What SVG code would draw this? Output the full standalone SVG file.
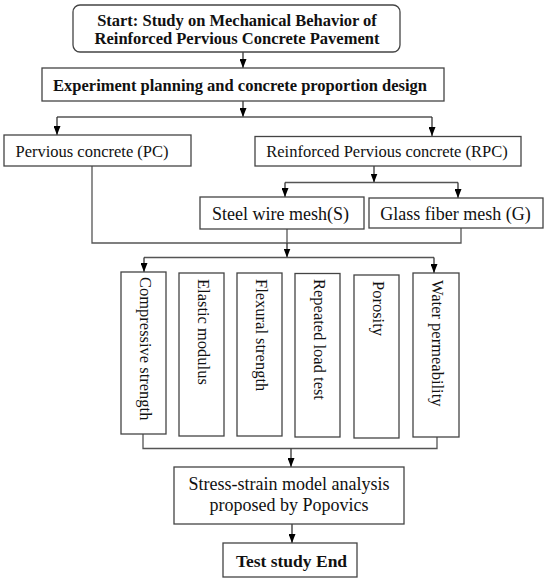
<svg xmlns="http://www.w3.org/2000/svg" width="550" height="582" viewBox="0 0 550 582">
<defs>
<marker id="ah" viewBox="0 0 9 7" refX="9" refY="3.5" markerWidth="9" markerHeight="7" markerUnits="userSpaceOnUse" orient="auto">
<path d="M0,0 L9,3.5 L0,7 z" fill="#000"/>
</marker>
<style>
.box{fill:#fff;stroke:#444;stroke-width:1.3}
.ln{fill:none;stroke:#555;stroke-width:1.3}
.ar{fill:none;stroke:#333;stroke-width:1.3;marker-end:url(#ah)}
.t{font-family:"Liberation Serif","Times New Roman",serif;font-size:16.5px;fill:#111}
.b{font-weight:bold}
.m{text-anchor:middle}
</style>
</defs>
<rect width="550" height="582" fill="#fff"/>
<g id="connectors">
<line class="ar" x1="243" y1="52" x2="243" y2="68"/>
<line class="ar" x1="243" y1="101" x2="243" y2="117"/>
<polyline class="ln" points="57,117 432,117"/>
<line class="ar" x1="57" y1="117" x2="57" y2="135"/>
<line class="ar" x1="432" y1="117" x2="432" y2="136"/>
<line class="ar" x1="374" y1="166" x2="374" y2="182.5"/>
<polyline class="ln" points="285,182.5 458,182.5"/>
<line class="ar" x1="285" y1="182.5" x2="285" y2="197"/>
<line class="ar" x1="458" y1="182.5" x2="458" y2="198"/>
<polyline class="ln" points="92,166 92,243 461,243 461,228"/>
<line class="ln" x1="287" y1="229" x2="287" y2="243"/>
<line class="ar" x1="287" y1="243" x2="287" y2="257.5"/>
<polyline class="ln" points="144,257.5 434,257.5"/>
<line class="ar" x1="144" y1="257.5" x2="144" y2="272"/>
<line class="ar" x1="434" y1="257.5" x2="434" y2="273"/>
<polyline class="ln" points="143,434 143,448.5 437,448.5 437,437"/>
<line class="ar" x1="291" y1="448.5" x2="291" y2="467"/>
<line class="ar" x1="292" y1="524" x2="292" y2="543"/>
</g>
<g id="start">
<rect class="box" x="73" y="5" width="327" height="47" rx="7"/>
<text class="t b m" x="237" y="26">Start: Study on Mechanical Behavior of</text>
<text class="t b m" x="237" y="44">Reinforced Pervious Concrete Pavement</text>
</g>
<g id="design">
<rect class="box" x="42" y="68" width="402" height="33"/>
<text class="t b m" x="240" y="91">Experiment planning and concrete proportion design</text>
</g>
<g id="pc">
<rect class="box" x="4" y="135" width="187" height="31"/>
<text class="t m" x="92" y="157">Pervious concrete (PC)</text>
</g>
<g id="rpc">
<rect class="box" x="255" y="136.5" width="266" height="29.5"/>
<text class="t m" x="387" y="157">Reinforced Pervious concrete (RPC)</text>
</g>
<g id="steel">
<rect class="box" x="200" y="197" width="164" height="32"/>
<text class="t m" x="280.5" y="220" style="font-size:18px">Steel wire mesh(S)</text>
</g>
<g id="glass">
<rect class="box" x="369" y="198" width="174" height="30"/>
<text class="t m" x="455.5" y="220" style="font-size:18px">Glass fiber mesh (G)</text>
</g>
<g id="compressive">
<rect class="box" x="121" y="272" width="45" height="162"/>
<text class="t" transform="translate(139.5,277) rotate(90)">Compressive strength</text>
</g>
<g id="elastic">
<rect class="box" x="179" y="273" width="45" height="163"/>
<text class="t" transform="translate(197.5,279) rotate(90)">Elastic modulus</text>
</g>
<g id="flexural">
<rect class="box" x="237" y="273" width="45" height="163"/>
<text class="t" transform="translate(255.5,279) rotate(90)">Flexural strength</text>
</g>
<g id="repeated">
<rect class="box" x="295" y="273.5" width="45" height="163.5"/>
<text class="t" transform="translate(313.5,279) rotate(90)">Repeated load test</text>
</g>
<g id="porosity">
<rect class="box" x="354" y="275" width="45" height="163"/>
<text class="t" transform="translate(372.5,281) rotate(90)">Porosity</text>
</g>
<g id="water">
<rect class="box" x="413" y="273" width="46" height="164"/>
<text class="t" transform="translate(432,280) rotate(90)">Water permeability</text>
</g>
<g id="stress">
<rect class="box" x="174" y="467" width="230" height="57"/>
<text class="t m" x="289" y="490" style="font-size:18px">Stress-strain model analysis</text>
<text class="t m" x="289" y="511" style="font-size:18px">proposed by Popovics</text>
</g>
<g id="end">
<rect class="box" x="223" y="543" width="134" height="34"/>
<text class="t b m" x="291.5" y="567" style="font-size:17.5px">Test study End</text>
</g>
</svg>
